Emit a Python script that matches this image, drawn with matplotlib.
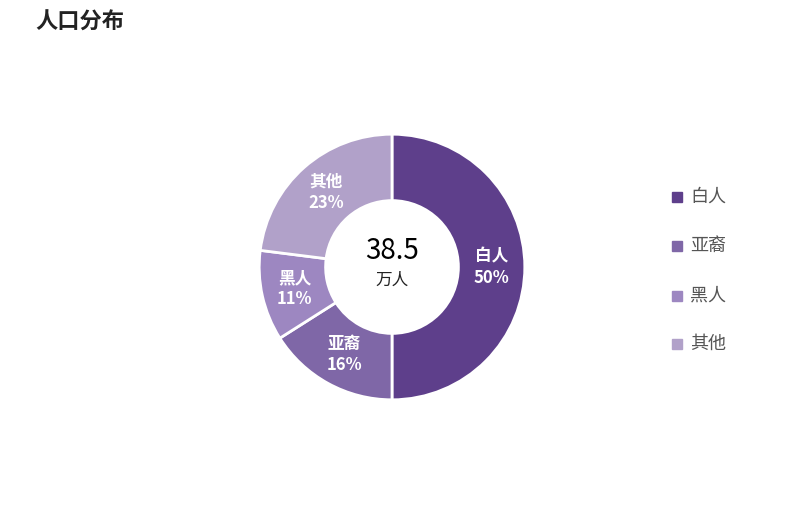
import matplotlib.pyplot as plt
from matplotlib.patches import Rectangle
import numpy as np

plt.rcParams['font.family'] = ['Noto Sans CJK SC', 'DejaVu Sans']

labels = ["白人", "亚裔", "黑人", "其他"]
values = [50, 16, 11, 23]
colors = ["#5e3f8b", "#7f67a7", "#9d87c1", "#b1a1c9"]
total = "38.5"
unit = "万人"

fig = plt.figure(figsize=(7.85, 5.32), dpi=100)
r = 166
ax = fig.add_axes([(392 - r) / 785, (532 - 267 - r) / 532, 2 * r / 785, 2 * r / 532])

wedges, texts = ax.pie(values, colors=colors, startangle=90, counterclock=False,
                       radius=1.0, wedgeprops=dict(width=0.5, edgecolor="white", linewidth=2))
ax.set_aspect("equal")

ang = 90.0
for lab, v in zip(labels, values):
    mid = np.deg2rad(ang - v / 100 * 360 / 2)
    ang -= v / 100 * 360
    x, y = 0.75 * np.cos(mid), 0.75 * np.sin(mid)
    ax.text(x, y, f"{lab}\n{v}%", ha="center", va="center", color="white",
            fontsize=12, fontweight="bold", linespacing=1.25)

ax.text(0, 0.12, total, ha="center", va="center", fontsize=20, color="black")
ax.text(0, -0.1, unit, ha="center", va="center", fontsize=12, color="#222222")

fig.text(35 / 785, 1 - 22 / 532, "人口分布", fontsize=16, fontweight="bold",
         va="center", ha="left", color="#222222")

ys = [197, 246, 296, 344]
for lab, c, y in zip(labels, colors, ys):
    fig.patches.append(Rectangle((672 / 785, 1 - (y + 5) / 532), 10 / 785, 10 / 532,
                                 transform=fig.transFigure, color=c))
    fig.text(690 / 785, 1 - y / 532, lab, fontsize=13, va="center", ha="left", color="#555555")

fig.savefig("out.png", dpi=100)
